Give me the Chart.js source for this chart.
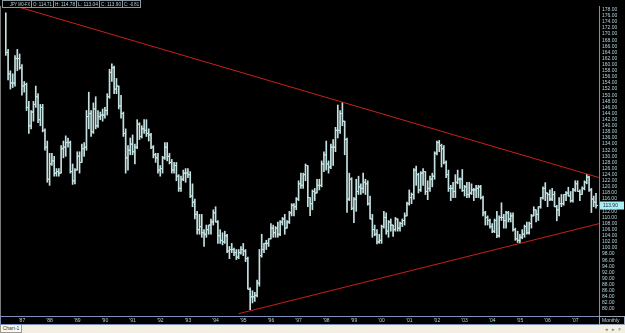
<!DOCTYPE html>
<html>
<head>
<meta charset="utf-8">
<script src="https://cdn.jsdelivr.net/npm/chart.js@4.4.0/dist/chart.umd.min.js"></script>
<style>
  html, body { margin: 0; padding: 0; background: #000; width: 625px; height: 333px; overflow: hidden; }
  #wrap { position: relative; width: 625px; height: 325px; }
  #footer { position: relative; width: 625px; height: 8px; background: #f2f0e2; font: 5px 'Liberation Sans', sans-serif; color: #333; }
  #tab { position: absolute; left: 0; top: 0; width: 20px; height: 7px; border: 1px solid #9a9a90; border-top: none; background: #faf9f0; line-height: 7px; text-align: center; }
  #nav { position: absolute; right: 3px; top: 0; line-height: 8px; color: #777; letter-spacing: 1px; }
</style>
</head>
<body>
<div id="wrap"><canvas id="chart" width="625" height="325"></canvas></div>
<div id="footer"><div id="tab">Chart-1</div><div id="nav">&#9666; &#9656; &#215;</div></div>
<script>
// monthly bars, Jun 1986 .. Oct 2007 (month index 0 = Jan 1987)
const firstMonth = -7;

const opens = [
    172, 164, 157, 154, 154, 162, 162,
    159, 153, 153.5, 146, 140, 144.5, 147, 149.5, 142, 146, 138.5, 133,
    122.5, 127.5, 128.5, 124.5, 125, 124.5, 132.5, 133, 134.5, 134.5, 125, 122,
    125.5, 130, 128, 132.5, 133, 143, 144, 138, 145.5, 140, 143, 143.5,
    143.5, 145, 149.5, 157.5, 159, 152, 153, 146.5, 144, 137.5, 129.5, 132,
    134, 131.5, 133, 140.5, 136.5, 139, 138.5, 137.5, 137, 133, 130.5, 129.5,
    125.5, 126, 129.5, 133, 130, 128, 125.5, 127, 123.5, 119.5, 122.5, 124.5,
    124.5, 124, 117, 115, 111, 106, 107, 105, 104.5, 106, 107.5, 108.5,
    111.5, 108.5, 104, 102.5, 102, 104, 99, 99.5, 99.5, 98.5, 97, 98.5,
    99.5, 99, 96.5, 86.5, 84, 84, 84.5, 88.5, 97.5, 99.5, 101.5, 101.5,
    103, 106.5, 105, 106.5, 104.5, 108.5, 109.5, 106.5, 108.5, 111.5, 114, 113.5,
    116, 121, 120.5, 124, 127, 116.5, 114.5, 118.5, 118, 120.5, 120.5, 127.5,
    130.5, 127.5, 126.5, 133, 133, 138.5, 138.5, 144, 141.5, 135.5, 116, 122.5,
    113, 116, 118.5, 120, 119.5, 121.5, 121, 114.5, 109.5, 106, 104.5, 102,
    102.5, 107, 110, 105.5, 108.5, 107.5, 106, 109.5, 106.5, 108, 109, 110.5,
    114.5, 116.5, 117.5, 125.5, 124, 119, 124.5, 125, 118.5, 119.5, 122.5, 123.5,
    131, 134.5, 133.5, 132.5, 128, 124, 119.5, 119.5, 118.5, 121.5, 122.5, 122.5,
    118.8, 120, 117.5, 118, 119, 119, 119.5, 120, 116.5, 111.5, 110, 109,
    107, 105.5, 109, 104, 110, 110, 109, 111.5, 109.5, 110.5, 106, 103,
    102.5, 103.5, 104.5, 107, 105, 108, 110.5, 112.5, 111, 113.5, 116.5, 119.5,
    118, 117.5, 116, 117.5, 113.5, 112.5, 114.5, 114.5, 117.5, 118, 117, 115.5,
    119, 121, 118.5, 117.5, 119.5, 121.5, 123.2, 119, 116, 115
];
const highs = [
    177, 165, 158, 157, 163, 165, 163.5,
    160, 154.5, 154, 148, 145, 148, 153, 150.5, 147, 147, 139, 135,
    131, 131, 130, 126, 126, 133.5, 135, 136.7, 136, 135, 127.5, 126,
    131.5, 131.5, 134, 134.5, 145, 151, 145, 147.5, 149.5, 145, 144.5, 145.5,
    146, 150.5, 158.5, 160.3, 159.5, 155.5, 153, 150, 144.5, 139, 133.5, 136,
    137, 134, 142, 141, 140, 142, 142, 139, 137.5, 133.5, 131, 131,
    127, 130, 134.5, 134.5, 131, 129, 128, 128, 124, 123.5, 125.5, 126,
    126, 125, 121, 116, 112, 111, 111, 106, 107.5, 107.5, 109.5, 112.5,
    113.5, 109, 106, 105, 105.5, 104.5, 100.5, 101.5, 100, 99.5, 99.5, 100.5,
    101.5, 99.5, 97, 87, 86, 85.5, 89.5, 99.5, 104.5, 101.5, 102.5, 103,
    108, 107.5, 107, 108.5, 109, 110, 111, 109, 112, 114.5, 114.5, 116.5,
    122, 124.5, 124.5, 127.5, 127, 116.5, 119, 119.5, 122.5, 122.5, 128.5, 131.5,
    135, 128.5, 134, 135.5, 139.5, 146.8, 145, 147.6, 141.5, 136, 124.5, 123,
    116.5, 122.5, 123.5, 121, 124.5, 122.5, 122, 117, 111, 107.5, 106, 104.5,
    107.5, 112, 111.5, 109, 109.5, 107.5, 110, 109.5, 108.5, 109.5, 111.5, 115,
    119, 118, 126, 126.8, 124.5, 125, 126, 125, 122, 123.5, 124.5, 131.5,
    135, 135.2, 134, 133.5, 128.5, 125.5, 120.5, 121.5, 124, 125.5, 123, 125.7,
    120.5, 121.5, 121.5, 121, 119.5, 120.5, 120.5, 120.5, 117, 112, 110.5, 109.5,
    108, 109.5, 112, 110.5, 114.8, 111, 112, 112, 111.5, 111.5, 106.5, 105.5,
    104.5, 106, 107.5, 108.5, 108.5, 111, 113.5, 112.5, 113.5, 116.5, 120, 121.4,
    118, 119, 119.5, 118.5, 114, 116.5, 117.5, 117.5, 118.5, 119.9, 118.5, 119.5,
    122, 122, 119, 120, 122, 124.1, 123.5, 119.5, 117, 117.9
];
const lows = [
    163, 155, 152, 152.5, 153, 158, 158.5,
    150, 151, 145, 137.5, 139, 141.5, 146, 141, 140, 138, 132, 121.5,
    120.5, 127, 123.5, 123.5, 123.5, 124.5, 129.5, 130, 133, 124.5, 120.8, 121,
    125.5, 124.5, 128, 130, 132, 139, 136.5, 137.5, 139, 139.5, 142, 141.5,
    142.5, 143.5, 149, 154.5, 150.5, 150.5, 145.5, 142.5, 136.5, 124.5, 125.5, 130.5,
    130.5, 127.5, 132.5, 135.5, 136, 137.5, 136.5, 135, 132.5, 129.5, 128, 124.5,
    123.5, 124.5, 129, 128.5, 127.5, 124.5, 124.5, 122, 118.5, 118.5, 122, 121.5,
    123, 116.5, 113.5, 109.5, 104.5, 104.5, 103.5, 100.5, 103.5, 104.5, 104.5, 107.5,
    108.5, 101.5, 101.5, 101, 101.5, 98.5, 96.5, 98.5, 97.5, 96.2, 96.5, 98,
    97.5, 95.5, 86.5, 79.8, 82, 82.5, 84, 87.5, 97, 98.5, 99.5, 100.5,
    103, 103.5, 103.5, 103.5, 104, 107.5, 104.5, 106.5, 108, 110.5, 110.5, 112.5,
    115.5, 119.5, 119.5, 122, 113.5, 110.6, 112.5, 115.5, 118, 119, 120, 125,
    125.5, 124.5, 126, 127, 131.5, 136, 137.5, 140, 130.5, 111.6, 115.5, 112.5,
    108.3, 112, 117.5, 117.5, 118, 117.5, 114, 109.5, 103.5, 104, 101.3, 101.5,
    101.5, 106.5, 104.5, 103.5, 105.5, 103.8, 105.5, 105.5, 105.5, 107, 107.5, 110.5,
    114, 114.5, 116, 120.5, 118, 118.5, 120.5, 117.5, 115.8, 118.5, 120, 122.5,
    130.5, 131.5, 126.5, 127.5, 123, 118.5, 115.5, 116.5, 116.5, 121, 119.5, 118.5,
    117, 116.5, 116.5, 117.5, 115.5, 116.5, 116.5, 116, 110.5, 107.5, 107.5, 106.5,
    105, 105, 103.4, 103.5, 109, 106.5, 106.5, 108.5, 108.5, 105.5, 102.5, 101.8,
    101.7, 103, 103.5, 104.5, 104.5, 106.5, 110.5, 108.5, 109, 113, 116, 115.5,
    113.5, 115.5, 115.5, 113.5, 108.9, 110.5, 113.5, 114, 115.5, 117, 115, 115,
    118.5, 118.5, 115.5, 117.5, 119, 121, 118.5, 111.6, 113.5, 113
];
const closes = [
    164, 157, 154, 154, 162, 162, 159,
    153, 153.5, 146, 140, 144.5, 147, 149.5, 142, 146, 138.5, 133, 122.5,
    127.5, 128.5, 124.5, 125, 124.5, 132.5, 133, 134.5, 134.5, 125, 122, 125.5,
    130, 128, 132.5, 133, 143, 144, 138, 145.5, 140, 143, 143.5, 143.5,
    145, 149.5, 157.5, 159, 152, 153, 146.5, 144, 137.5, 129.5, 132, 134,
    131.5, 133, 140.5, 136.5, 139, 138.5, 137.5, 137, 133, 130.5, 129.5, 125.5,
    126, 129.5, 133, 130, 128, 125.5, 127, 123.5, 119.5, 122.5, 124.5, 124.5,
    124, 117, 115, 111, 106, 107, 105, 104.5, 106, 107.5, 108.5, 111.5,
    108.5, 104, 102.5, 102, 104, 99, 99.5, 99.5, 98.5, 97, 98.5, 99.5,
    99, 96.5, 86.5, 84, 84, 84.5, 88.5, 97.5, 99.5, 101.5, 101.5, 103,
    106.5, 105, 106.5, 104.5, 108.5, 109.5, 106.5, 108.5, 111.5, 114, 113.5, 116,
    121, 120.5, 124, 127, 116.5, 114.5, 118.5, 118, 120.5, 120.5, 127.5, 130.5,
    127.5, 126.5, 133, 133, 138.5, 138.5, 144, 141.5, 135.5, 116, 122.5, 113,
    116, 118.5, 120, 119.5, 121.5, 121, 114.5, 109.5, 106, 104.5, 102, 102.5,
    107, 110, 105.5, 108.5, 107.5, 106, 109.5, 106.5, 108, 109, 110.5, 114.5,
    116.5, 117.5, 125.5, 124, 119, 124.5, 125, 118.5, 119.5, 122.5, 123.5, 131,
    134.5, 133.5, 132.5, 128, 124, 119.5, 119.5, 118.5, 121.5, 122.5, 122.5, 118.8,
    120, 117.5, 118, 119, 119, 119.5, 120, 116.5, 111.5, 110, 109, 107,
    105.5, 109, 104, 110, 110, 109, 111.5, 109.5, 110.5, 106, 103, 102.5,
    103.5, 104.5, 107, 105, 108, 110.5, 112.5, 111, 113.5, 116.5, 119.5, 118,
    117.5, 116, 117.5, 113.5, 112.5, 114.5, 114.5, 117.5, 118, 117, 115.5, 119,
    121, 118.5, 117.5, 119.5, 121.5, 123.2, 119, 116, 115, 113.9
];

// hand-drawn trend lines (month index, price)
const upperTrend = [{ x: -7, y: 180.1 }, { x: 251, y: 122.9 }];
const lowerTrend = [{ x: 94, y: 78.5 }, { x: 251, y: 108.1 }];

const yearTicks = [0, 12, 24, 36, 48, 60, 72, 84, 96, 108, 120, 132, 144, 156, 168, 180, 192, 204, 216, 228, 240];
const yearLabels = ["'87", "'88", "'89", "'90", "'91", "'92", "'93", "'94", "'95", "'96", "'97",
    "'98", "'99", "'00", "'01", "'02", "'03", "'04", "'05", "'06", "'07"];
const priceTickMin = 80, priceTickMax = 178, priceTickStep = 2;

const header = ['JPY M0-FX', 'O: 114.71', 'H: 114.78', 'L: 113.04', 'C: 113.90', 'C: -0.81'];
const headerEdges = [2, 31, 53, 76, 99, 122, 140];

const barColor = '#c4e2e2';
const textColor = '#b4d4da';
const trendColor = '#c8201c';
const font = "'Liberation Sans', sans-serif";

Chart.defaults.font.family = font;
Chart.defaults.color = textColor;

const decor = {
    id: 'decor',
    beforeDraw(chart) {
        const ctx = chart.ctx;
        ctx.save();
        ctx.fillStyle = '#000';
        ctx.fillRect(0, 0, chart.width, chart.height);
        ctx.restore();
    },
    afterDraw(chart) {
        const { ctx, chartArea: a } = chart;
        const { x, y } = chart.scales;
        ctx.save();
        ctx.lineWidth = 1;

        // left frame
        ctx.strokeStyle = '#7a7a7a';
        ctx.beginPath();
        ctx.moveTo(0.5, a.top);
        ctx.lineTo(0.5, a.bottom);
        ctx.stroke();

        // date strip with year labels, and "Monthly" box
        ctx.strokeStyle = '#7d8fba';
        ctx.strokeRect(0.5, a.bottom + 0.5, a.right, 8);
        ctx.strokeStyle = '#9aa4b4';
        ctx.strokeRect(a.right + 0.5, a.bottom + 0.5, chart.width - a.right - 1, 8);
        ctx.font = '5px ' + font;
        ctx.fillStyle = textColor;
        ctx.textBaseline = 'middle';
        ctx.textAlign = 'center';
        yearTicks.forEach((m, i) => {
            ctx.fillText(yearLabels[i], x.getPixelForValue(m), a.bottom + 5);
        });
        ctx.textAlign = 'left';
        ctx.fillText('Monthly', a.right + 3, a.bottom + 5);

        // last price label
        const last = closes[closes.length - 1];
        const py = y.getPixelForValue(last);
        ctx.fillStyle = '#a8eef4';
        ctx.fillRect(a.right + 1, py - 4, 24, 8);
        ctx.fillStyle = '#1a2a34';
        ctx.fillText(last.toFixed(2), a.right + 4, py + 0.5);

        // header box
        ctx.fillStyle = '#000';
        ctx.fillRect(headerEdges[0], 0, headerEdges[headerEdges.length - 1] - headerEdges[0], 8);
        ctx.strokeStyle = '#8a9aa0';
        for (let i = 0; i < header.length; i++) {
            const x0 = headerEdges[i], x1 = headerEdges[i + 1];
            const inset = i === 0 ? 8 : 2;
            ctx.strokeRect(x0 + 0.5, 0.5, x1 - x0, 7);
            ctx.fillStyle = textColor;
            ctx.fillText(header[i], x0 + inset, 4.5, x1 - x0 - inset - 1);
        }
        ctx.restore();
    }
};

const ctx = document.getElementById('chart').getContext('2d');

new Chart(ctx, {
    type: 'bar',
    data: {
        datasets: [
            {
                type: 'bar',
                data: highs.map((h, i) => ({ x: firstMonth + i, y: [lows[i], h] })),
                backgroundColor: barColor,
                barThickness: 1,
                grouped: false,
                order: 2
            },
            {
                type: 'scatter',
                data: opens.map((o, i) => ({ x: firstMonth + i - 0.45, y: o })),
                pointStyle: 'line',
                pointRadius: 1,
                borderColor: barColor,
                borderWidth: 1,
                order: 2
            },
            {
                type: 'scatter',
                data: closes.map((c, i) => ({ x: firstMonth + i + 0.45, y: c })),
                pointStyle: 'line',
                pointRadius: 1,
                borderColor: barColor,
                borderWidth: 1,
                order: 2
            },
            {
                type: 'line',
                data: upperTrend,
                borderColor: trendColor,
                borderWidth: 1,
                pointRadius: 0,
                order: 1
            },
            {
                type: 'line',
                data: lowerTrend,
                borderColor: trendColor,
                borderWidth: 1,
                pointRadius: 0,
                order: 1
            }
        ]
    },
    options: {
        responsive: false,
        animation: false,
        events: [],
        layout: { padding: { left: 2, top: 1, right: 0, bottom: 0 } },
        plugins: {
            legend: { display: false },
            tooltip: { enabled: false }
        },
        scales: {
            x: {
                type: 'linear',
                min: -7.34,
                max: 250.3,
                offset: false,
                grid: { display: false, drawTicks: false },
                border: { display: false },
                ticks: { display: false },
                afterBuildTicks: s => { s.ticks = yearTicks.map(v => ({ value: v })); },
                afterFit: s => { s.height = 9; }
            },
            y: {
                type: 'linear',
                position: 'right',
                min: 77.74,
                max: 179.2,
                grid: { display: false, drawTicks: false },
                border: { display: true, color: '#8c8c8c' },
                ticks: {
                    color: textColor,
                    font: { size: 5 },
                    padding: 3,
                    autoSkip: false,
                    callback: v => v.toFixed(2)
                },
                afterBuildTicks: s => {
                    const t = [];
                    for (let v = priceTickMin; v <= priceTickMax; v += priceTickStep) t.push({ value: v });
                    s.ticks = t;
                },
                afterFit: s => { s.width = 26; }
            }
        }
    },
    plugins: [decor]
});
</script>
</body>
</html>
